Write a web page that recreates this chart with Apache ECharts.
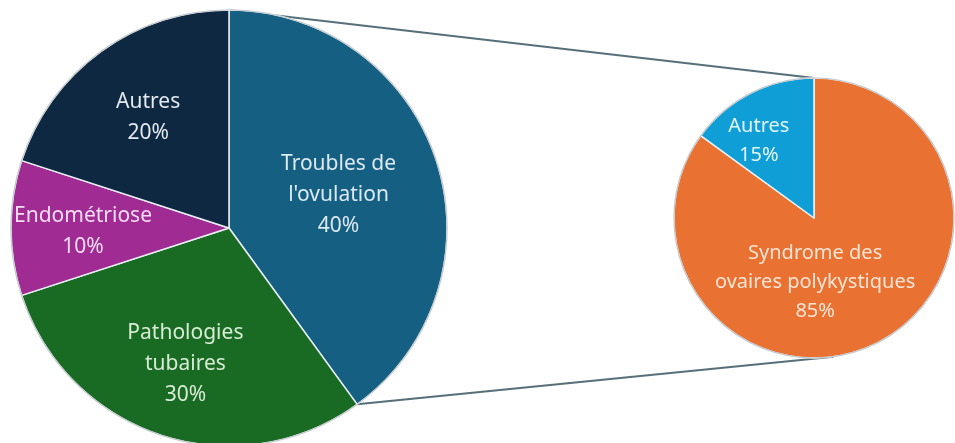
<!DOCTYPE html>
<html><head><meta charset="utf-8">
<script src="https://cdn.jsdelivr.net/npm/echarts@6/dist/echarts.min.js"></script>
<style>html,body{margin:0;padding:0;background:#fff}#c{width:955px;height:443px}</style>
</head><body><div id="c"></div>
<script>
const mainNames = ["Troubles de\nl'ovulation", "Pathologies\ntubaires", "Endométriose", "Autres"];
const mainValues = [40, 30, 10, 20];
const mainColors = ['#156082', '#196B24', '#A02B93', '#0E2841'];
const mainText = ['#dce9f2', '#d6ecd4', '#f8dcf4', '#e3e9f0'];
const mainOffsets = [[3, 2], [-9, 29], [-34, 4], [-15, -20]];

const subNames = ["Syndrome des\novaires polykystiques", "Autres"];
const subValues = [85, 15];
const subColors = ['#E97132', '#0F9ED5'];
const subText = ['#fde4d5', '#e4f4fc'];
const subOffsets = [[-32, -1], [-22, -12]];

const C1 = [229, 228], R1 = 218;
const C2 = [814, 218], R2 = 140;

const chart = echarts.init(document.getElementById('c'));
function pt(c, r, deg) { const a = deg * Math.PI / 180; return [c[0] + r * Math.sin(a), c[1] - r * Math.cos(a)]; }
const total = mainValues.reduce((a, b) => a + b, 0);
const bAngle = 360 * mainValues[0] / total;
const a1 = pt(C1, R1, 0), b1 = pt(C1, R1, bAngle);
const a2 = pt(C2, R2, 0), b2 = pt(C2, R2, 172);
const lineStyle = { stroke: '#56707a', lineWidth: 2 };

function mk(names, values, colors, texts) {
  return names.map((n, i) => ({ name: n, value: values[i], itemStyle: { color: colors[i] }, label: { color: texts[i] } }));
}
const fmt = p => p.name + '\n' + p.value + '%';
chart.setOption({
  animation: false,
  graphic: [
    { type: 'line', z: 0, shape: { x1: a1[0], y1: a1[1], x2: a2[0], y2: a2[1] }, style: lineStyle },
    { type: 'line', z: 0, shape: { x1: b1[0], y1: b1[1], x2: b2[0], y2: b2[1] }, style: lineStyle },
    { type: 'circle', z: 100, silent: true, shape: { cx: C1[0], cy: C1[1], r: R1 }, style: { fill: 'none', stroke: '#c4c8cc', lineWidth: 1.2 } },
    { type: 'circle', z: 100, silent: true, shape: { cx: C2[0], cy: C2[1], r: R2 }, style: { fill: 'none', stroke: '#c4c8cc', lineWidth: 1.2 } }
  ],
  series: [
    {
      type: 'pie', center: C1, radius: R1, startAngle: 90, clockwise: true, z: 5,
      data: mk(mainNames, mainValues, mainColors, mainText),
      itemStyle: { borderColor: '#e8eef2', borderWidth: 1.5 },
      label: { position: 'inside', formatter: fmt, fontFamily: 'Noto Sans', fontSize: 21, lineHeight: 31 },
      labelLine: { show: false },
      labelLayout: p => ({ dx: mainOffsets[p.dataIndex][0], dy: mainOffsets[p.dataIndex][1] }),
      emphasis: { disabled: true }
    },
    {
      type: 'pie', center: C2, radius: R2, startAngle: 90, clockwise: true, z: 5,
      data: mk(subNames, subValues, subColors, subText),
      itemStyle: { borderColor: '#eef2f4', borderWidth: 1.5 },
      label: { position: 'inside', formatter: fmt, fontFamily: 'Noto Sans', fontSize: 20, lineHeight: 29 },
      labelLine: { show: false },
      labelLayout: p => ({ dx: subOffsets[p.dataIndex][0], dy: subOffsets[p.dataIndex][1] }),
      emphasis: { disabled: true }
    }
  ]
});
</script></body></html>
